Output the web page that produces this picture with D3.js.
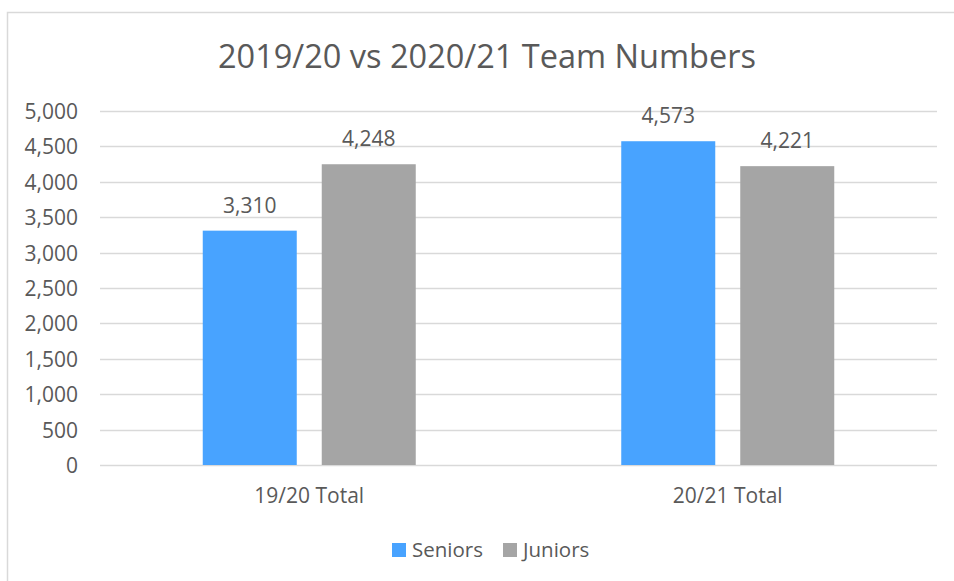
<!DOCTYPE html>
<html><head><meta charset="utf-8">
<script src="https://cdn.jsdelivr.net/npm/d3@7"></script>
<style>body{margin:0;background:#fff;} text{font-family:"Open Sans",sans-serif;fill:#595959;}</style>
</head><body><svg id="c" width="954" height="581"></svg>
<script>
const categories = ["19/20 Total", "20/21 Total"];
const seriesNames = ["Seniors", "Juniors"];
const seniors = [3310, 4573];
const juniors = [4248, 4221];
const yTicks = [0, 500, 1000, 1500, 2000, 2500, 3000, 3500, 4000, 4500, 5000];
const colors = ["#48A3FF", "#A5A5A5"];

const svg = d3.select("#c");
svg.append("rect").attr("x", 7.5).attr("y", 12.5).attr("width", 960).attr("height", 600)
  .attr("fill", "none").attr("stroke", "#D9D9D9").attr("stroke-width", 1.5);

svg.append("text").attr("x", 487).attr("y", 68).attr("text-anchor", "middle")
  .style("font-size", "32.5px").text("2019/20 vs 2020/21 Team Numbers");

const x0 = d3.scaleBand().domain(categories).range([100, 937]);
const y = d3.scaleLinear().domain([0, 5000]).range([465, 111]);

const grid = svg.append("g");
grid.selectAll("line").data(yTicks).join("line")
  .attr("x1", 100).attr("x2", 937)
  .attr("y1", d => Math.round(y(d)) + 0.5).attr("y2", d => Math.round(y(d)) + 0.5)
  .attr("stroke", "#D9D9D9").attr("stroke-width", 1.3);

const yAxis = d3.axisLeft(y).tickValues(yTicks).tickFormat(d3.format(",")).tickSize(0).tickPadding(0);
const ga = svg.append("g").attr("transform", "translate(78,0)").call(yAxis);
ga.select(".domain").remove();
ga.selectAll("text").attr("dy", null).attr("y", 7.5).style("font-size", "21px").attr("fill", "#595959").style("font-family", '"Open Sans",sans-serif');

const rows = categories.map((c, i) => ({cat: c, vals: [seniors[i], juniors[i]]}));
const x1 = d3.scaleBand().domain(seriesNames).range([0, x0.bandwidth()]).paddingInner(0.21).paddingOuter(0.8635);

const g = svg.append("g");
const grp = g.selectAll("g").data(rows).join("g").attr("transform", d => `translate(${x0(d.cat)},0)`);
grp.selectAll("rect").data(d => d.vals.map((v, j) => ({v, s: seriesNames[j], j}))).join("rect")
  .attr("x", d => x1(d.s)).attr("width", x1.bandwidth())
  .attr("y", d => y(d.v)).attr("height", d => y(0) - y(d.v))
  .attr("fill", d => colors[d.j]);
grp.selectAll("text").data(d => d.vals.map((v, j) => ({v, s: seriesNames[j], j}))).join("text")
  .attr("x", d => x1(d.s) + x1.bandwidth() / 2).attr("y", d => y(d.v) - 18)
  .attr("text-anchor", "middle").style("font-size", "21px").text(d => d3.format(",")(d.v));

const xAxis = d3.axisBottom(x0).tickSize(0).tickPadding(0);
const gx = svg.append("g").attr("transform", "translate(0,503)").call(xAxis);
gx.select(".domain").remove();
gx.selectAll("text").attr("dy", null).attr("y", 0).style("font-size", "21px").attr("fill", "#595959").style("font-family", '"Open Sans",sans-serif');

const legendX = [392, 503];
const lg = svg.append("g");
seriesNames.forEach((s, i) => {
  lg.append("rect").attr("x", legendX[i]).attr("y", 543).attr("width", 14).attr("height", 14).attr("fill", colors[i]);
  lg.append("text").attr("x", legendX[i] + 20).attr("y", 557).style("font-size", "20.5px").text(s);
});
</script></body></html>
